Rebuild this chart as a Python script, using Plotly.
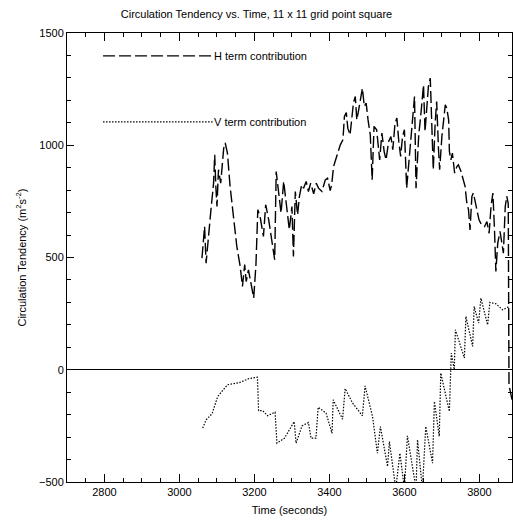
import plotly.graph_objects as go

# H term contribution (time in s, value in m^2 s^-2)
h_time = [3060, 3067, 3071, 3078, 3084, 3091, 3094, 3097, 3100, 3104, 3110, 3118, 3122, 3128,
          3135, 3144, 3153, 3162, 3168, 3174, 3178, 3184, 3191, 3198, 3204, 3209, 3215, 3224,
          3230, 3238, 3246, 3254, 3258, 3264, 3271, 3278, 3285, 3293, 3300, 3304, 3309, 3315,
          3320, 3326, 3331, 3338, 3344, 3350, 3358, 3365, 3371, 3380, 3389, 3395, 3402, 3406,
          3411, 3420, 3429, 3436, 3440, 3445, 3449, 3455, 3460, 3464, 3469, 3473, 3478, 3484,
          3488, 3493, 3498, 3503, 3509, 3514, 3519, 3526, 3534, 3540, 3546, 3551, 3558, 3564,
          3569, 3575, 3580, 3585, 3590, 3595, 3600, 3606, 3613, 3620, 3627, 3631, 3638, 3645,
          3651, 3655, 3660, 3664, 3669, 3671, 3677, 3682, 3686, 3691, 3694, 3700, 3704, 3709,
          3713, 3718, 3720, 3724, 3728, 3734, 3740, 3744, 3751, 3758, 3762, 3766, 3771, 3775,
          3780, 3784, 3789, 3793, 3799, 3806, 3814, 3820, 3826, 3831, 3836, 3840, 3844, 3849,
          3855, 3860, 3864, 3869, 3873, 3877, 3879, 3890]
h_value = [497, 638, 475, 624, 713, 831, 958, 817, 727, 891, 831, 987, 1010, 965,
           817, 683, 549, 460, 371, 468, 393, 445, 386, 320, 468, 713, 683, 594,
           735, 668, 579, 490, 883, 787, 698, 839, 735, 624, 727, 505, 794, 690,
           772, 824, 809, 839, 794, 831, 784, 831, 809, 794, 846, 853, 798, 824,
           905, 957, 1002, 1024, 1128, 1146, 1076, 1046, 1113, 1188, 1217, 1113, 1158, 1210,
           1254, 1173, 1188, 1113, 1046, 846, 1084, 1069, 935, 1054, 972, 935, 1017, 1039,
           980, 1098, 1121, 1017, 950, 1039, 1069, 809, 950, 1098, 1217, 809, 1039, 1158,
           1269, 1061, 1158, 1262, 1299, 1217, 891, 1098, 1195, 980, 891, 1039, 1113, 1180,
           1165, 1113, 972, 935, 965, 876, 905, 913, 883, 846, 816, 749, 712, 623,
           772, 787, 742, 712, 668, 645, 638, 660, 608, 727, 787, 638, 438, 564,
           616, 564, 519, 727, 773, 740, -70, -156]

# V term contribution
v_time = [3062, 3071, 3087, 3102, 3128, 3142, 3160, 3186, 3208, 3211, 3222, 3235, 3255, 3260,
          3280, 3306, 3311, 3327, 3344, 3351, 3364, 3370, 3391, 3407, 3410, 3435, 3442, 3462,
          3488, 3495, 3515, 3528, 3536, 3555, 3560, 3577, 3588, 3600, 3608, 3631, 3635, 3648,
          3657, 3675, 3680, 3693, 3697, 3720, 3725, 3733, 3736, 3760, 3764, 3782, 3786, 3798,
          3804, 3822, 3828, 3844, 3862, 3880]
v_value = [-260, -223, -196, -119, -67, -63, -57, -39, -33, -182, -182, -205, -189, -327,
           -305, -231, -327, -250, -235, -305, -305, -167, -193, -283, -134, -220, -84, -149,
           -205, -72, -208, -372, -253, -431, -320, -530, -372, -530, -294, -530, -312, -530,
           -253, -416, -141, -297, -15, -186, 74, 0, 178, 52, 237, 104, 282, 208,
           319, 200, 300, 294, 267, 282]

title_text = "Circulation Tendency vs. Time, 11 x 11 grid point square"
x_title = "Time (seconds)"
y_title = "Circulation Tendency (m<sup>2</sup>s<sup>-2</sup>)"
legend_labels = ["H term contribution", "V term contribution"]

FONT = "Liberation Sans, Arial, Helvetica, sans-serif"

fig = go.Figure()
fig.add_trace(go.Scatter(x=h_time, y=h_value, mode="lines",
                         line=dict(color="black", width=1.4, dash="12px,4px"),
                         showlegend=False))
fig.add_trace(go.Scatter(x=v_time, y=v_value, mode="lines",
                         line=dict(color="black", width=1.2, dash="1.5px,1.5px"),
                         showlegend=False))

# legend samples (paper coords)
leg = [(0.949, "12px,4px", 1.4), (0.802, "1.5px,1.5px", 1.2)]
for (yy, dsh, w), lab in zip(leg, legend_labels):
    fig.add_shape(type="line", xref="paper", yref="paper", x0=0.081, x1=0.328, y0=yy, y1=yy,
                  line=dict(color="black", width=w, dash=dsh))
    fig.add_annotation(xref="paper", yref="paper", x=0.328, y=yy, text=lab, showarrow=False,
                       xanchor="left", yanchor="middle", xshift=-1,
                       font=dict(family=FONT, size=11, color="black"))

fig.update_layout(
    width=513, height=525,
    margin=dict(l=67, r=1, t=33, b=43),
    paper_bgcolor="white", plot_bgcolor="white",
    font=dict(family=FONT, size=11, color="black"),
    title=dict(text=title_text, x=0.5, xref="container", y=1 - 14 / 525, yref="container",
               xanchor="center", yanchor="middle", font=dict(family=FONT, size=11, color="black")),
    xaxis=dict(range=[2700, 3887], dtick=200, tick0=0, ticks="inside", ticklen=8, tickwidth=1,
               tickcolor="black", showline=True, linecolor="black", linewidth=1, mirror="ticks",
               showgrid=False, zeroline=False,
               minor=dict(dtick=50, tick0=0, ticks="inside", ticklen=4, tickcolor="black", showgrid=False),
               title=dict(text=x_title, font=dict(family=FONT, size=11), standoff=9),
               tickfont=dict(family=FONT, size=11)),
    yaxis=dict(range=[-500, 1500], dtick=500, tick0=0, ticks="inside", ticklen=7, tickwidth=1,
               tickcolor="black", showline=True, linecolor="black", linewidth=1, mirror="ticks",
               showgrid=False, zeroline=True, zerolinecolor="black", zerolinewidth=1,
               minor=dict(dtick=100, tick0=0, ticks="inside", ticklen=4, tickcolor="black", showgrid=False),
               title=dict(text=y_title, font=dict(family=FONT, size=11), standoff=10),
               tickfont=dict(family=FONT, size=11)),
)

fig.write_html("out.html")
